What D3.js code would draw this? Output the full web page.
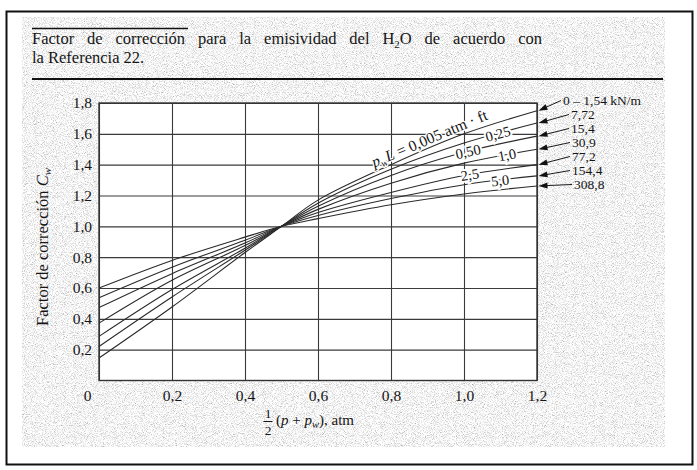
<!DOCTYPE html>
<html>
<head>
<meta charset="utf-8">
<script src="https://cdn.jsdelivr.net/npm/d3@7"></script>
<style>
  html, body { margin: 0; padding: 0; background: #fff; }
  svg { display: block; }
  text { font-family: "Liberation Serif", "Times New Roman", serif; fill: #151515; }
</style>
</head>
<body>
<script>
// Correction factor C_w for H2O emissivity vs. mean pressure ½(p + p_w)
const xValues = [0, 0.2, 0.4, 0.5, 0.6, 0.8, 1.0, 1.2];

const cw_0005 = [0.146, 0.477, 0.830, 1.0, 1.17, 1.40, 1.60, 1.750];
const cw_025  = [0.221, 0.542, 0.845, 1.0, 1.15, 1.37, 1.54, 1.670];
const cw_050  = [0.286, 0.590, 0.858, 1.0, 1.13, 1.33, 1.48, 1.585];
const cw_10   = [0.372, 0.650, 0.875, 1.0, 1.11, 1.28, 1.41, 1.500];
const cw_25   = [0.473, 0.693, 0.892, 1.0, 1.09, 1.22, 1.33, 1.400];
const cw_50   = [0.537, 0.735, 0.910, 1.0, 1.07, 1.18, 1.27, 1.327];
const cw_100  = [0.600, 0.779, 0.930, 1.0, 1.05, 1.14, 1.21, 1.262];

const seriesValues = [cw_0005, cw_025, cw_050, cw_10, cw_25, cw_50, cw_100];
// p_w·L labels written on the curves (atm·ft); the last curve carries none
const curveLabels = ["0,005", "0,25", "0,50", "1,0", "2,5", "5,0", null];
const curveLabelX = [0.915, 1.093, 1.011, 1.118, 1.016, 1.099, null];
// SI equivalents listed at the right-hand end (kN/m)
const siLabels = ["0 \u2013 1,54 kN/m", "7,72", "15,4", "30,9", "77,2", "154,4", "308,8"];

const xTicks = [0, 0.2, 0.4, 0.6, 0.8, 1.0, 1.2];
const yTicks = [0.2, 0.4, 0.6, 0.8, 1.0, 1.2, 1.4, 1.6, 1.8];

const W = 697, H = 470;
const plot = { left: 99, top: 103, right: 537, bottom: 380.5 };

const svg = d3.select("body").append("svg")
  .attr("width", W).attr("height", H);

// paper grain
const defs = svg.append("defs");
const grain = defs.append("filter").attr("id", "grain")
  .attr("x", 0).attr("y", 0).attr("width", "100%").attr("height", "100%");
grain.append("feTurbulence").attr("type", "fractalNoise")
  .attr("baseFrequency", 1.1).attr("numOctaves", 2).attr("seed", 7);
grain.append("feColorMatrix").attr("type", "matrix")
  .attr("values", "1.3 0 0 0 0.26  1.3 0 0 0 0.26  1.3 0 0 0 0.26  0 0 0 0 1");

svg.append("rect").attr("x", 6.5).attr("y", 11.5).attr("width", 686).attr("height", 453)
  .attr("fill", "#fff").attr("stroke", "#111").attr("stroke-width", 2);
svg.append("rect").attr("x", 22).attr("y", 17).attr("width", 643).attr("height", 430)
  .attr("filter", "url(#grain)");

// title block
svg.append("line").attr("x1", 32).attr("x2", 188).attr("y1", 28.5).attr("y2", 28.5)
  .attr("stroke", "#111").attr("stroke-width", 1.5);
const t1 = svg.append("text").attr("x", 32).attr("y", 44).attr("font-size", 16.5);
t1.append("tspan").text("Factor de corrección para la emisividad del H");
t1.append("tspan").attr("font-size", 11).attr("dy", 4).text("2");
t1.append("tspan").attr("dy", -4).text("O de acuerdo con");
// justified line: spread the word gaps to the column width
const t1Len = t1.node().getComputedTextLength();
t1.attr("word-spacing", Math.max(0, (510 - t1Len) / 10));
svg.append("text").attr("x", 32).attr("y", 63).attr("font-size", 16.5).text("la Referencia 22.");
svg.append("line").attr("x1", 32).attr("x2", 663).attr("y1", 79).attr("y2", 79)
  .attr("stroke", "#111").attr("stroke-width", 2.2);

const x = d3.scaleLinear().domain([0, 1.2]).range([plot.left, plot.right]);
const y = d3.scaleLinear().domain([0, 1.8]).range([plot.bottom, plot.top]);
const fmt = v => d3.format(".1f")(v).replace(".", ",");

svg.append("rect").attr("x", plot.left).attr("y", plot.top)
  .attr("width", plot.right - plot.left).attr("height", plot.bottom - plot.top)
  .attr("fill", "#fff");

// grid
const gx = svg.append("g").attr("transform", `translate(0,${plot.bottom})`)
  .call(d3.axisBottom(x).tickValues(xTicks).tickSize(-(plot.bottom - plot.top)).tickFormat(fmt));
const gy = svg.append("g").attr("transform", `translate(${plot.left},0)`)
  .call(d3.axisLeft(y).tickValues(yTicks).tickSize(-(plot.right - plot.left)).tickFormat(fmt));
[gx, gy].forEach(g => {
  g.select(".domain").remove();
  g.selectAll(".tick line").attr("stroke", "#3a3a3a").attr("stroke-width", 1.1);
  g.selectAll(".tick text").attr("font-family", "Liberation Serif, serif")
    .attr("font-size", 15.5).attr("fill", "#151515");
});
gx.selectAll(".tick text").attr("y", 9).attr("dy", "0.71em");
gx.selectAll(".tick text").filter(d => d === 0).text("0").attr("dx", -12);
gy.selectAll(".tick text").attr("x", -7);

svg.append("rect").attr("x", plot.left).attr("y", plot.top)
  .attr("width", plot.right - plot.left).attr("height", plot.bottom - plot.top)
  .attr("fill", "none").attr("stroke", "#333").attr("stroke-width", 1.4);

// curves
const line = d3.line().x(d => x(d[0])).y(d => y(d[1])).curve(d3.curveCatmullRom.alpha(0.5));
const curves = seriesValues.map(vals => xValues.map((xv, i) => [xv, vals[i]]));
svg.append("g").selectAll("path").data(curves).join("path")
  .attr("d", line).attr("fill", "none").attr("stroke", "#2a2a2a").attr("stroke-width", 1.1);

// labels set on the curves
function valueAt(vals, xv) {
  const i = Math.min(xValues.length - 2, d3.bisectRight(xValues, xv) - 1);
  const t = (xv - xValues[i]) / (xValues[i + 1] - xValues[i]);
  return { v: vals[i] + t * (vals[i + 1] - vals[i]),
           slope: (y(vals[i + 1]) - y(vals[i])) / (x(xValues[i + 1]) - x(xValues[i])) };
}
const labG = svg.append("g");
curveLabels.forEach((lab, k) => {
  if (!lab) return;
  const { v, slope } = valueAt(seriesValues[k], curveLabelX[k]);
  const ang = Math.atan(slope) * 180 / Math.PI;
  const px = x(curveLabelX[k]), py = y(v);
  const g = labG.append("g").attr("transform", `translate(${px},${py}) rotate(${ang})`);
  if (k === 0) {
    const tx = g.append("text").attr("text-anchor", "middle").attr("y", -4).attr("font-size", 15.5)
      .attr("stroke", "#fff").attr("stroke-width", 2.5).attr("paint-order", "stroke");
    tx.append("tspan").attr("font-style", "italic").text("p");
    tx.append("tspan").attr("font-style", "italic").attr("font-size", 10.5).attr("dy", 3).text("w");
    tx.append("tspan").attr("font-style", "italic").attr("dy", -3).text("L");
    tx.append("tspan").text(" = " + lab + " atm \u00B7 ft");
  } else {
    g.append("text").attr("text-anchor", "middle").attr("dy", "0.35em").attr("font-size", 14.5)
      .attr("stroke", "#fff").attr("stroke-width", 4).attr("paint-order", "stroke")
      .attr("fill", "#151515").text(lab);
  }
});

// SI labels with arrows pointing at the curve ends
const siLabelY = [100, 114, 128, 142, 156, 170, 184];
const siLabelX = [563, 571, 571, 572, 572, 572, 574];
const arrowG = svg.append("g");
seriesValues.forEach((vals, k) => {
  const tipX = x(1.2) + 1.5, tipY = y(vals[vals.length - 1]);
  const sx = siLabelX[k] - 2, sy = siLabelY[k] + 0.5;
  const ang = Math.atan2(sy - tipY, sx - tipX);
  arrowG.append("line").attr("x1", tipX + 6 * Math.cos(ang)).attr("y1", tipY + 6 * Math.sin(ang))
    .attr("x2", sx).attr("y2", sy).attr("stroke", "#1a1a1a").attr("stroke-width", 1);
  const L = 9, Wd = 3;
  const bx = tipX + L * Math.cos(ang), by = tipY + L * Math.sin(ang);
  const nx = -Math.sin(ang) * Wd, ny = Math.cos(ang) * Wd;
  arrowG.append("path")
    .attr("d", `M${tipX},${tipY}L${bx + nx},${by + ny}L${bx - nx},${by - ny}Z`)
    .attr("fill", "#111");
  arrowG.append("text").attr("x", siLabelX[k]).attr("y", siLabelY[k]).attr("dy", "0.35em")
    .attr("font-size", 13.5).text(siLabels[k]);
});

// axis titles
const yl = svg.append("text")
  .attr("transform", "translate(48,247) rotate(-90)")
  .attr("text-anchor", "middle").attr("font-size", 16.5);
yl.append("tspan").text("Factor de corrección ");
yl.append("tspan").attr("font-style", "italic").text("C");
yl.append("tspan").attr("font-style", "italic").attr("font-size", 11).attr("dy", 3).text("w");

const xl = svg.append("g");
xl.append("text").attr("x", 268).attr("y", 418).attr("text-anchor", "middle").attr("font-size", 13.5).text("1");
xl.append("line").attr("x1", 263.5).attr("x2", 272.5).attr("y1", 421.5).attr("y2", 421.5)
  .attr("stroke", "#151515").attr("stroke-width", 1);
xl.append("text").attr("x", 268).attr("y", 434.5).attr("text-anchor", "middle").attr("font-size", 13.5).text("2");
const xt = xl.append("text").attr("x", 276).attr("y", 425).attr("font-size", 15);
xt.append("tspan").text("(");
xt.append("tspan").attr("font-style", "italic").text("p");
xt.append("tspan").text(" + ");
xt.append("tspan").attr("font-style", "italic").text("p");
xt.append("tspan").attr("font-style", "italic").attr("font-size", 10.5).attr("dy", 3).text("w");
xt.append("tspan").attr("dy", -3).text("), atm");
</script>
</body>
</html>
